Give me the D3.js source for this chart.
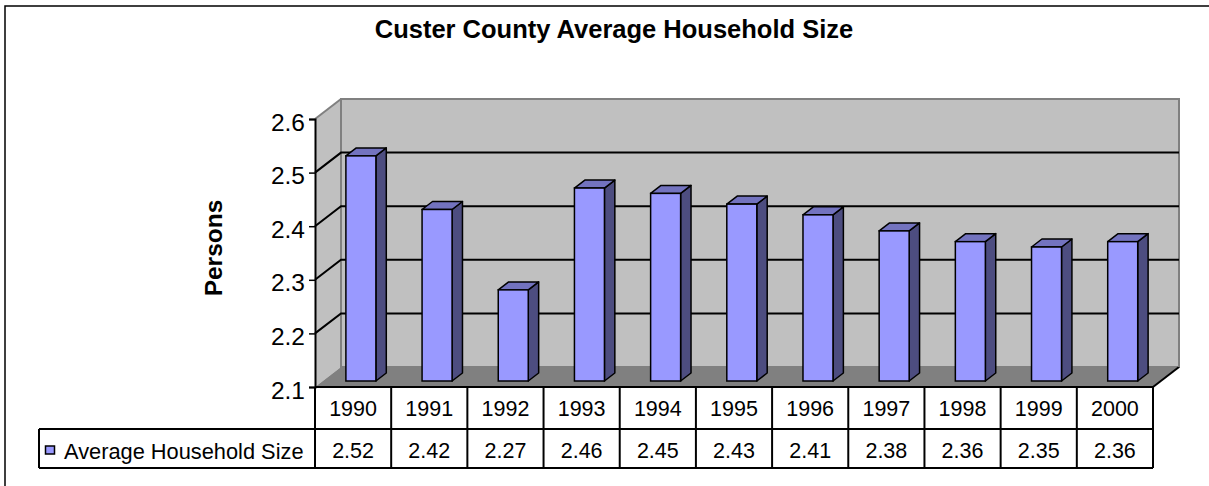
<!DOCTYPE html>
<html><head><meta charset="utf-8">
<script src="https://cdn.jsdelivr.net/npm/d3@7"></script>
<style>body{margin:0;background:#fff}svg{display:block}text{font-family:Arial,"Liberation Sans",sans-serif;fill:#000}</style>
</head><body><svg id="c" width="1209" height="486"></svg>
<script>
const chartTitle = "Custer County Average Household Size";
const yAxisTitle = "Persons";
const seriesName = "Average Household Size";
const years = ["1990","1991","1992","1993","1994","1995","1996","1997","1998","1999","2000"];
const householdSize = [2.52,2.42,2.27,2.46,2.45,2.43,2.41,2.38,2.36,2.35,2.36];
const yTicks = [2.1,2.2,2.3,2.4,2.5,2.6];

const svg = d3.select("#c");
const DX = 26, DY = 20;          // depth offset of back wall
const left = 315, right = 1153;   // front plane extent
const y = d3.scaleLinear().domain([2.1, 2.6]).range([387, 119]);
const x = d3.scaleBand().domain(years).range([left, right]).padding(0);
const bw = x.bandwidth();
const barW = 30, f0 = 0.3, f1 = 0.7;
const vBase = y.domain()[0], vTop = y.domain()[1];

// outer border
svg.append("rect").attr("x",5).attr("y",6).attr("width",1230).attr("height",520)
  .attr("fill","none").attr("stroke","#000").attr("stroke-width",1.5);

// title
svg.append("text").attr("x",614).attr("y",38).attr("text-anchor","middle")
  .attr("font-size",25.5).attr("font-weight","bold").text(chartTitle);

// side wall
svg.append("path").attr("d",`M${left},${y(vBase)}L${left},${y(vTop)}L${left+DX},${y(vTop)-DY}L${left+DX},${y(vBase)-DY}Z`)
  .attr("fill","#C0C0C0").attr("stroke","none");
svg.append("path").attr("d",`M${left},${y(vTop)}L${left+DX},${y(vTop)-DY}`)
  .attr("stroke","#808080").attr("stroke-width",2).attr("fill","none");
// back wall
svg.append("rect").attr("x",left+DX).attr("y",y(vTop)-DY).attr("width",right-left)
  .attr("height",y(vBase)-y(vTop)).attr("fill","#C0C0C0").attr("stroke","#808080").attr("stroke-width",2);
// floor
svg.append("path").attr("d",`M${left},${y(vBase)}L${left+DX},${y(vBase)-DY}L${right+DX},${y(vBase)-DY}L${right},${y(vBase)}Z`)
  .attr("fill","#808080");
svg.append("path").attr("d",`M${right},${y(vBase)}L${right+DX},${y(vBase)-DY}`)
  .attr("stroke","#000").attr("stroke-width",2).attr("fill","none");
svg.append("path").attr("d",`M${right+DX},${y(vBase)-DY}L${right+DX},${y(vTop)-DY}`)
  .attr("stroke","#808080").attr("stroke-width",2).attr("fill","none");

// gridlines
svg.append("g").selectAll("path").data(yTicks.filter(t => t > vBase && t < vTop)).join("path")
  .attr("d", t => `M${left},${y(t)}L${left+DX},${y(t)-DY}L${right+DX},${y(t)-DY}`)
  .attr("fill","none").attr("stroke","#000").attr("stroke-width",2);

// bars
const bars = svg.append("g").selectAll("g").data(years.map((yr,i)=>({yr, v: householdSize[i]}))).join("g");
const fx = d => x(d.yr) + (bw - barW)/2 + DX*f0;
const fyTop = d => y(d.v) - DY*f0;
const fyBot = () => y(vBase) - DY*f0;
const ddx = DX*(f1-f0), ddy = DY*(f1-f0);
bars.append("path").attr("d", d => `M${fx(d)+barW},${fyTop(d)}L${fx(d)+barW+ddx},${fyTop(d)-ddy}L${fx(d)+barW+ddx},${fyBot()-ddy}L${fx(d)+barW},${fyBot()}Z`)
  .attr("fill","#4D4D80").attr("stroke","#000").attr("stroke-width",1.5).attr("stroke-linejoin","round");
bars.append("path").attr("d", d => `M${fx(d)},${fyTop(d)}L${fx(d)+ddx},${fyTop(d)-ddy}L${fx(d)+barW+ddx},${fyTop(d)-ddy}L${fx(d)+barW},${fyTop(d)}Z`)
  .attr("fill","#7373BF").attr("stroke","#000").attr("stroke-width",1.5).attr("stroke-linejoin","round");
bars.append("rect").attr("x", fx).attr("y", fyTop).attr("width", barW).attr("height", d => fyBot() - fyTop(d))
  .attr("fill","#9999FF").attr("stroke","#000").attr("stroke-width",1.5);

// y axis
const axis = svg.append("g").attr("transform",`translate(${left},0)`)
  .call(d3.axisLeft(y).tickValues(yTicks).tickFormat(d3.format(".1f")).tickSize(6).tickPadding(4));
axis.select(".domain").attr("stroke","#000").attr("stroke-width",2);
axis.selectAll(".tick line").attr("stroke","#000").attr("stroke-width",1.5);
axis.selectAll(".tick text").attr("font-size",24.5).attr("font-family","Arial, 'Liberation Sans', sans-serif")
  .attr("fill","#000").attr("dy","0.45em");

// y axis title
svg.append("text").attr("transform","translate(222,248) rotate(-90)").attr("text-anchor","middle")
  .attr("font-size",24.5).attr("font-weight","bold").text(yAxisTitle);

// data table
const r0 = y(vBase), r1 = 429, r2 = 468, legL = 39;
const tg = svg.append("g").attr("stroke","#000").attr("stroke-width",2);
tg.append("line").attr("x1",left).attr("x2",right).attr("y1",r0).attr("y2",r0);
tg.append("line").attr("x1",legL).attr("x2",right).attr("y1",r1).attr("y2",r1);
tg.append("line").attr("x1",legL).attr("x2",right).attr("y1",r2).attr("y2",r2);
tg.append("line").attr("x1",legL).attr("x2",legL).attr("y1",r1).attr("y2",r2);
tg.selectAll("line.v").data(years.map(yr=>x(yr)).concat([right])).join("line").attr("class","v")
  .attr("x1",d=>d).attr("x2",d=>d).attr("y1",r0).attr("y2",r2);

svg.append("g").selectAll("text").data(years).join("text")
  .attr("x", d => x(d) + bw/2).attr("y", 416).attr("text-anchor","middle").attr("font-size",21.5).text(d=>d);
svg.append("g").selectAll("text").data(householdSize).join("text")
  .attr("x", (d,i) => x(years[i]) + bw/2).attr("y", 458).attr("text-anchor","middle").attr("font-size",21.5)
  .text(d => d3.format(".2f")(d));

// legend key
svg.append("rect").attr("x",45.5).attr("y",446).attr("width",9).attr("height",8)
  .attr("fill","#9999FF").attr("stroke","#000").attr("stroke-width",1.5);
svg.append("text").attr("x",64).attr("y",459).attr("font-size",21.8).text(seriesName);
</script></body></html>
